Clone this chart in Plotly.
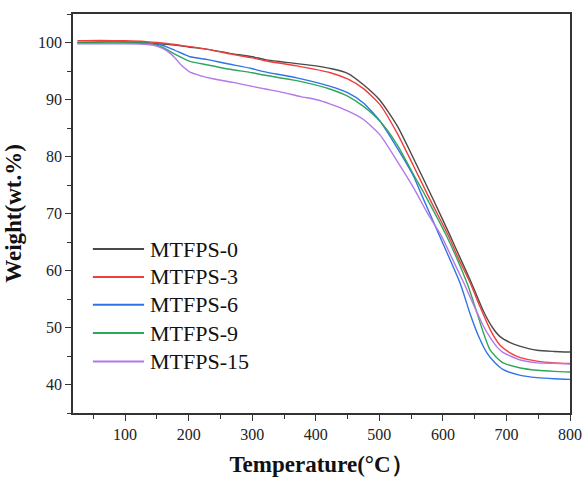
import plotly.graph_objects as go

# ---- data ----
names = ["MTFPS-0", "MTFPS-3", "MTFPS-6", "MTFPS-9", "MTFPS-15"]
colors = ["#4a4a4a", "#f23d3d", "#2f74e6", "#2fa65a", "#b577ea"]

t0 = [25, 60, 100, 130, 150, 175, 200, 230, 265, 300, 320, 370, 400, 425, 450, 475, 500, 528, 554, 585,
      611, 628, 645, 664, 678, 690, 705, 722, 748, 775, 800]
w0 = [100.0, 100.1, 100.1, 100.0, 99.8, 99.6, 99.2, 98.8, 98.1, 97.5, 97.0, 96.3, 95.9, 95.4, 94.6, 92.6,
      90.0, 85.4, 79.6, 72.4, 66.2, 62.0, 57.8, 52.8, 50.0, 48.4, 47.4, 46.7, 46.0, 45.8, 45.7]

t3 = [25, 60, 100, 130, 150, 175, 200, 230, 265, 300, 320, 370, 423, 450, 475, 501, 528, 554, 580, 609,
      625, 643, 659, 675, 690, 705, 722, 748, 775, 800]
w3 = [100.3, 100.35, 100.3, 100.2, 100.0, 99.7, 99.3, 98.8, 98.0, 97.3, 96.8, 95.9, 94.7, 93.6, 91.9,
      89.1, 84.1, 78.3, 72.4, 66.0, 62.0, 57.8, 53.5, 49.5, 46.9, 45.6, 44.7, 44.1, 43.8, 43.7]

t6 = [25, 60, 100, 130, 155, 175, 202, 230, 255, 300, 318, 370, 423, 450, 475, 501, 528, 554, 566, 595,
      627, 644, 656, 669, 682, 695, 722, 748, 775, 800]
w6 = [99.8, 99.8, 99.8, 99.8, 99.6, 98.8, 97.5, 97.0, 96.4, 95.4, 94.9, 93.8, 92.3, 91.2, 89.4, 86.2,
      81.5, 76.5, 73.4, 66.0, 57.8, 52.0, 48.5, 45.6, 43.8, 42.6, 41.6, 41.2, 41.0, 40.9]

t9 = [25, 60, 100, 130, 145, 160, 176, 190, 202, 228, 265, 300, 318, 370, 423, 450, 475, 501, 528, 554,
      573, 606, 638, 653, 663, 674, 684, 695, 722, 748, 775, 800]
w9 = [99.9, 99.9, 99.9, 99.9, 99.7, 99.1, 98.1, 97.3, 96.7, 96.1, 95.3, 94.7, 94.3, 93.3, 91.8, 90.6,
      88.8, 86.2, 82.1, 76.8, 73.0, 66.0, 57.8, 52.8, 49.3, 46.1, 44.8, 43.8, 42.9, 42.5, 42.3, 42.2]

t15 = [25, 60, 100, 130, 145, 158, 171, 180, 187, 195, 202, 218, 240, 270, 300, 323, 350, 376, 400, 423,
       450, 475, 501, 528, 554, 575, 598, 615, 633, 651, 663, 674, 685, 695, 722, 748, 775, 800]
w15 = [99.8, 99.8, 99.8, 99.7, 99.5, 99.0, 98.1, 97.1, 96.2, 95.4, 94.8, 94.2, 93.6, 93.0, 92.3, 91.8,
       91.2, 90.5, 90.0, 89.2, 88.0, 86.5, 83.8, 79.2, 74.5, 70.2, 66.0, 62.0, 57.8, 53.3, 50.4, 48.3,
       46.6, 45.6, 44.3, 43.8, 43.7, 43.6]

x_tickvals = [100, 200, 300, 400, 500, 600, 700, 800]
y_tickvals = [40, 50, 60, 70, 80, 90, 100]

series = [(t0, w0), (t3, w3), (t6, w6), (t9, w9), (t15, w15)]

FONT = "Times New Roman, Liberation Serif, serif"

fig = go.Figure()
for (tx, wy), nm, c in zip(series, names, colors):
    fig.add_trace(go.Scatter(x=tx, y=wy, mode="lines", name=nm,
                             line=dict(color=c, width=1.4, shape="spline", smoothing=0.6),
                             showlegend=False))

# manual legend (longer line samples as in the reference)
leg_y = [0.411, 0.341, 0.271, 0.2005, 0.129]
for nm, c, yy in zip(names, colors, leg_y):
    fig.add_shape(type="line", xref="paper", yref="paper", x0=0.040, x1=0.143, y0=yy, y1=yy,
                  line=dict(color=c, width=2))
    fig.add_annotation(xref="paper", yref="paper", x=0.151, y=yy, text=nm, showarrow=False,
                       xanchor="left", yanchor="middle",
                       font=dict(family=FONT, size=22, color="#111"))

axis_common = dict(showline=True, linecolor="#333", linewidth=1.5, mirror=True,
                   ticks="outside", ticklen=6, tickwidth=1.3, tickcolor="#333",
                   showgrid=False, zeroline=False, automargin=False,
                   tickfont=dict(family=FONT, size=16, color="#222"))

fig.update_xaxes(range=[18, 800], tickvals=x_tickvals,
                 minor=dict(ticks="outside", ticklen=4, tickwidth=1.2, tickcolor="#333", dtick=50, tick0=0),
                 title=dict(text="<b>Temperature(°C）</b>", font=dict(family=FONT, size=23, color="#111"),
                            standoff=18),
                 **axis_common)
fig.update_yaxes(range=[35, 105], tickvals=y_tickvals,
                 minor=dict(ticks="outside", ticklen=4, tickwidth=1.2, tickcolor="#333", dtick=5, tick0=0),
                 title=dict(text="<b>Weight(wt.%)</b>", font=dict(family=FONT, size=23, color="#111"),
                            standoff=10),
                 **axis_common)

fig.update_layout(width=584, height=477, margin=dict(l=73, r=14, t=14, b=64),
                  paper_bgcolor="white", plot_bgcolor="white")

fig.write_html("out.html")
